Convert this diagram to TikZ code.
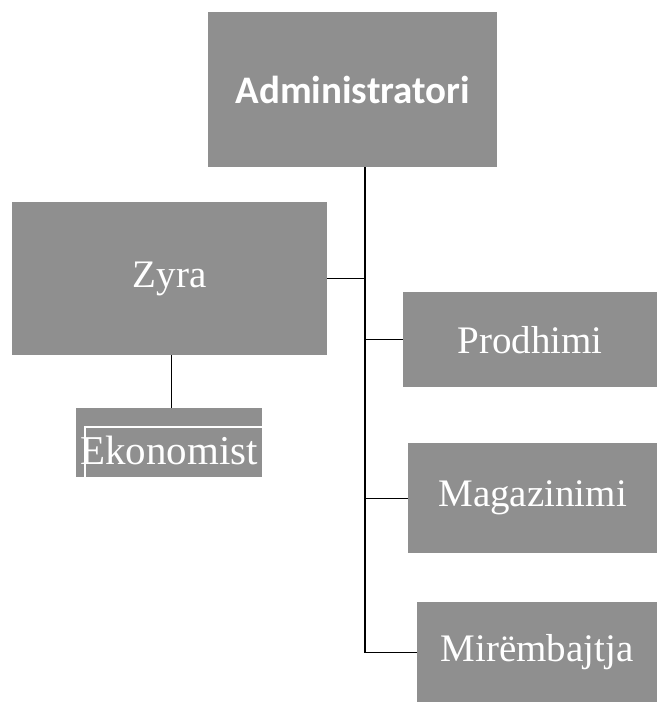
\documentclass[tikz,border=0pt]{standalone}
\usepackage{fontspec}
\setmainfont{Liberation Serif}
\newfontfamily\headfont{Carlito}
\usepackage{xcolor}
\usepackage{tikz}
\usetikzlibrary{positioning}

\definecolor{boxgray}{gray}{0.56}

\begin{document}
\begin{tikzpicture}[
    x=1pt, y=-1pt,
    box/.style={rectangle, fill=boxgray, text=white, anchor=north west,
                inner sep=0pt, align=center, font=\fontsize{39}{44}\selectfont},
    headbox/.style={box, font=\headfont\bfseries\fontsize{39}{44}\selectfont},
    link/.style={draw=black, line width=1.3pt}
]
\useasboundingbox (0,0) rectangle (657,702);

% === TOP ===
\node[headbox, minimum width=289pt, minimum height=155pt] (admin) at (208,12) {Administratori};

% === LEFT ===
\node[box, minimum width=315pt, minimum height=153pt] (zyra) at (12,202) {Zyra};
\begin{scope}
  \clip (76,408) rectangle (262,477);
  \node[box, minimum width=186pt, minimum height=69pt, text height=43pt, text depth=0pt,
        font=\fontsize{41}{46}\selectfont] (ekon) at (76,408) {Ekonomist};
  \draw[white, line width=1.2pt] ([xshift=9pt]ekon.south west) |- ([yshift=-19pt]ekon.north east);
\end{scope}

% === RIGHT ===
\node[box, minimum width=254pt, minimum height=95pt] (prod) at (403,292) {Prodhimi};
\node[box, minimum width=249pt, minimum height=110pt] (mag) at (408,443) {Magazinimi};
\node[box, minimum width=240pt, minimum height=100pt] (mir) at (417,602) {Mirëmbajtja};

% === LINES ===
\coordinate (spine) at (365,0);
\draw[link] (admin.south -| spine) -- (mir.west -| spine) -- (mir.west);
\draw[link] (zyra.east) -- (zyra.east -| spine);
\draw[link] (prod.west -| spine) -- (prod.west);
\draw[link] (mag.west -| spine) -- (mag.west);
\draw[link] ([xshift=2pt]zyra.south) -- ([xshift=2pt]zyra.south |- ekon.north);

\end{tikzpicture}
\end{document}
